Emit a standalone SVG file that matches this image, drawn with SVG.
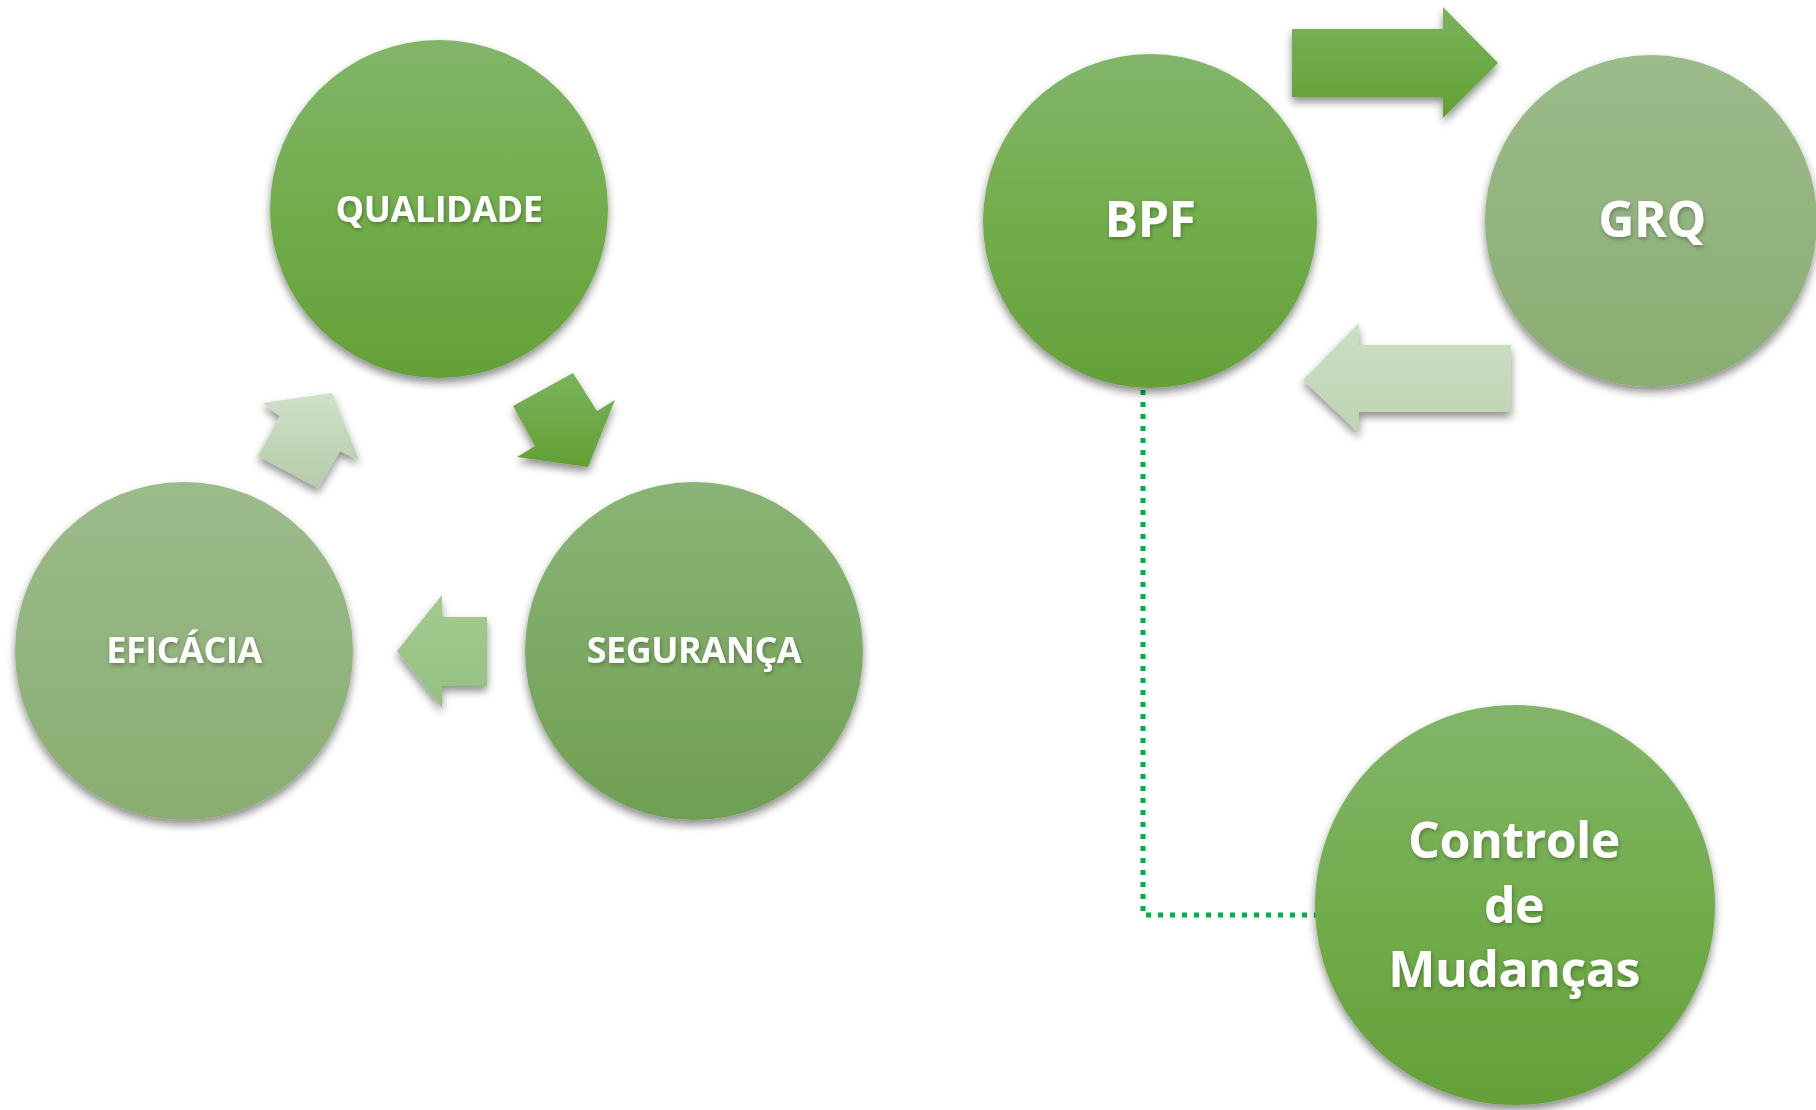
<svg xmlns="http://www.w3.org/2000/svg" width="1816" height="1110" viewBox="0 0 1816 1110">
<style>
.lbl{font-family:"Open Sans","Liberation Sans",sans-serif;font-weight:700;fill:#ffffff;text-anchor:middle;filter:url(#ts)}
.s{font-size:36px;letter-spacing:-0.5px}
.m{font-size:50px;letter-spacing:-0.5px}
.conn{fill:none;stroke:#00b050;stroke-width:5;stroke-dasharray:5 7}
</style>
<defs>
<linearGradient id="gDark" x1="0" y1="0" x2="0" y2="1">
<stop offset="0" stop-color="#82b56a"/><stop offset="0.5" stop-color="#72ad4c"/><stop offset="1" stop-color="#64a038"/>
</linearGradient>
<linearGradient id="gMid" x1="0" y1="0" x2="0" y2="1">
<stop offset="0" stop-color="#8ab476"/><stop offset="1" stop-color="#6f9f52"/>
</linearGradient>
<linearGradient id="gLight" x1="0" y1="0" x2="0" y2="1">
<stop offset="0" stop-color="#9bbb8b"/><stop offset="1" stop-color="#8aad72"/>
</linearGradient>
<linearGradient id="aDark" x1="0" y1="0" x2="0" y2="1">
<stop offset="0" stop-color="#7ab45c"/><stop offset="1" stop-color="#62a034"/>
</linearGradient>
<linearGradient id="aPale" x1="0" y1="0" x2="0" y2="1">
<stop offset="0" stop-color="#cfe1c8"/><stop offset="1" stop-color="#b5cba8"/>
</linearGradient>
<linearGradient id="aPale2" x1="0" y1="0" x2="0" y2="1">
<stop offset="0" stop-color="#cbdec3"/><stop offset="1" stop-color="#bfd4b4"/>
</linearGradient>
<linearGradient id="aMid" x1="0" y1="0" x2="0" y2="1">
<stop offset="0" stop-color="#a2ca8f"/><stop offset="1" stop-color="#95c183"/>
</linearGradient>
<filter id="sh" x="-20%" y="-20%" width="140%" height="140%">
<feDropShadow dx="0" dy="5" stdDeviation="4" flood-color="#000" flood-opacity="0.45"/>
</filter>
<filter id="ts" x="-10%" y="-20%" width="120%" height="150%">
<feDropShadow dx="1" dy="2" stdDeviation="2" flood-color="#000" flood-opacity="0.3"/>
</filter>
</defs>
<rect width="1816" height="1110" fill="#ffffff"/>

<g id="connectors">
<polyline class="conn" points="1143,390 1143,915 1340,915"/>
</g>

<g id="arrows" filter="url(#sh)">
<polygon id="arrow-q-s" fill="url(#aDark)" points="588,467 615,400 597,411 573,373 513,406 535,446 517,457"/>
<polygon id="arrow-s-e" fill="url(#aMid)" points="397,651 442,595 442,617 487,617 487,686 442,686 442,708"/>
<polygon id="arrow-e-q" fill="url(#aPale)" points="332,393 359,460 340,451 318,488 258,456 280,416 262,403"/>
<polygon id="arrow-bpf-grq" fill="url(#aDark)" points="1292,29 1443,29 1443,7 1498,63 1443,118 1443,97 1292,97"/>
<polygon id="arrow-grq-bpf" fill="url(#aPale2)" points="1303,380 1359,323 1359,345 1511,345 1511,412 1359,412 1359,433"/>
</g>

<g id="node-qualidade">
<circle cx="439" cy="209" r="169" fill="url(#gDark)" filter="url(#sh)"/>
<text class="lbl s" x="439" y="222">QUALIDADE</text>
</g>
<g id="node-seguranca">
<circle cx="694" cy="651" r="169" fill="url(#gMid)" filter="url(#sh)"/>
<text class="lbl s" x="694" y="663">SEGURANÇA</text>
</g>
<g id="node-eficacia">
<circle cx="184" cy="651" r="169" fill="url(#gLight)" filter="url(#sh)"/>
<text class="lbl s" x="184" y="663">EFICÁCIA</text>
</g>
<g id="node-bpf">
<circle cx="1150" cy="221" r="167" fill="url(#gDark)" filter="url(#sh)"/>
<text class="lbl m" x="1150" y="237">BPF</text>
</g>
<g id="node-grq">
<circle cx="1651" cy="221" r="166" fill="url(#gLight)" filter="url(#sh)"/>
<text class="lbl m" x="1652" y="237">GRQ</text>
</g>
<g id="node-controle">
<circle cx="1515" cy="905" r="200" fill="url(#gDark)" filter="url(#sh)"/>
<text class="lbl m" x="1514" y="858">Controle</text>
<text class="lbl m" x="1514" y="923">de</text>
<text class="lbl m" x="1514" y="987">Mudanças</text>
</g>
</svg>
